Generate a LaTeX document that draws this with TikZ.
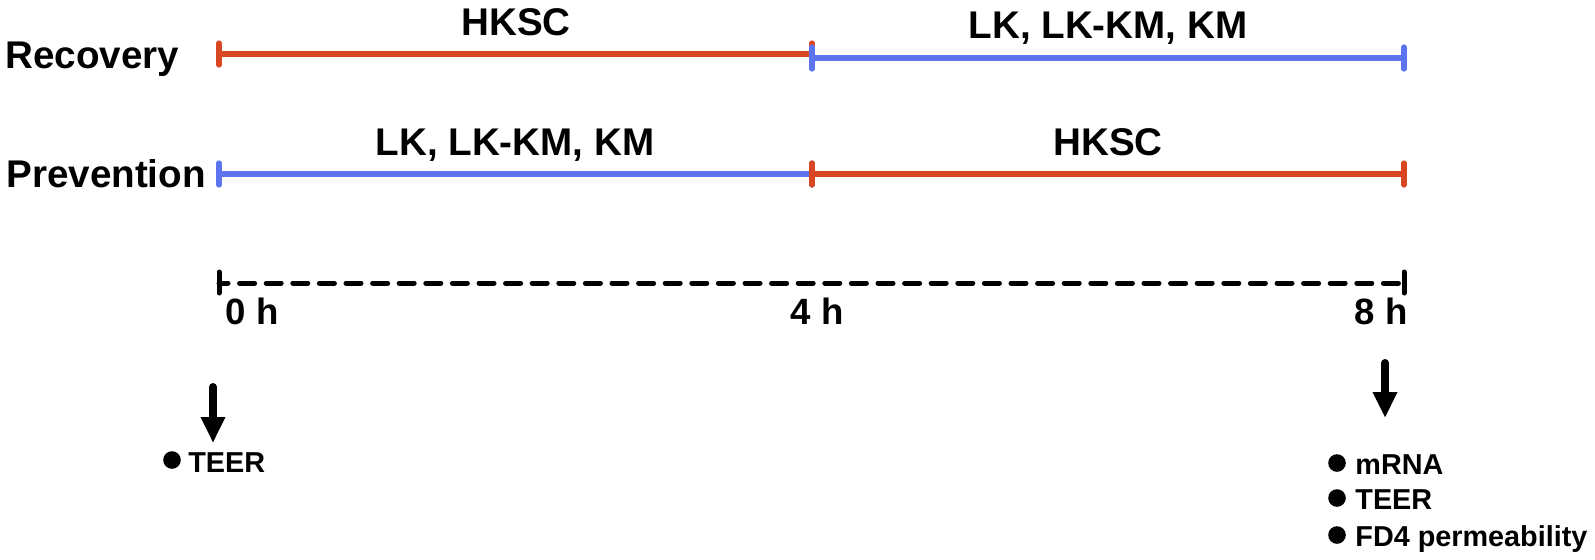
\documentclass[tikz,border=0pt]{standalone}
\usepackage{fontspec}
\setmainfont{Liberation Sans}
\usetikzlibrary{arrows.meta}
\definecolor{tlred}{RGB}{216,70,34}
\definecolor{tlblue}{RGB}{92,116,240}
\begin{document}
\begin{tikzpicture}[x=0.5pt,y=-0.5pt,
  seg/.style={line width=2.6pt,line cap=round},
  redseg/.style={seg,draw=tlred},
  blueseg/.style={seg,draw=tlblue},
  bigtxt/.style={inner sep=0pt,font=\fontsize{19.3}{22}\selectfont\bfseries},
  hourtxt/.style={inner sep=0pt,anchor=base,font=\fontsize{18.3}{22}\selectfont\bfseries},
  smalltxt/.style={inner sep=0pt,anchor=base west,font=\fontsize{14.4}{17}\selectfont\bfseries},
  dot/.style={circle,fill=black,inner sep=0pt,minimum size=8.8pt},
  bigarrow/.style={line width=4pt,line cap=round,-{Triangle[width=11.5pt,length=13pt]}}
]
\useasboundingbox (0,0) rectangle (1595,559);
% coordinates
\coordinate (ra) at (219,54);  \coordinate (rb) at (812,54);
\coordinate (rc) at (812,58);  \coordinate (rd) at (1404,58);
\coordinate (pa) at (219,174); \coordinate (pb) at (812,174);
\coordinate (pc) at (1404,174);
\coordinate (ta) at (219,283); \coordinate (tc) at (1404,283);
% row labels
\node[bigtxt,anchor=base west] (rec) at (5,68) {Recovery};
\node[bigtxt,anchor=base west] (prev) at (6,187) {Prevention};
% recovery row
\draw[redseg] (ra) -- (rb);
\draw[redseg] ([yshift=-5.5pt]ra) -- ([yshift=5.5pt]ra);
\draw[redseg] ([yshift=-5.5pt]rb) -- ([yshift=5.5pt]rb);
\draw[blueseg] (rc) -- (rd);
\draw[blueseg] ([yshift=-5.5pt]rc) -- ([yshift=5.5pt]rc);
\draw[blueseg] ([yshift=-5.5pt]rd) -- ([yshift=5.5pt]rd);
\node[bigtxt,anchor=base] (rl1) at (516,35) {HKSC};
\node[bigtxt,anchor=base] (rl2) at (1108,38) {LK, LK-KM, KM};
% prevention row
\draw[blueseg] (pa) -- (pb);
\draw[blueseg] ([yshift=-5.5pt]pa) -- ([yshift=5.5pt]pa);
\draw[blueseg] ([yshift=-5.5pt]pb) -- ([yshift=5.5pt]pb);
\draw[redseg] (pb) -- (pc);
\draw[redseg] ([yshift=-5.5pt]pb) -- ([yshift=5.5pt]pb);
\draw[redseg] ([yshift=-5.5pt]pc) -- ([yshift=5.5pt]pc);
\node[bigtxt,anchor=base] (pl1) at (515,155) {LK, LK-KM, KM};
\node[bigtxt,anchor=base] (pl2) at (1108,155) {HKSC};
% time axis
\draw[line width=2.5pt,line cap=round,dash pattern=on 7.5pt off 5.8pt,dash phase=3pt] (ta) -- (tc);
\draw[line width=2.5pt,line cap=round] ([yshift=-5pt]ta) -- ([yshift=5.5pt]ta);
\draw[line width=2.5pt,line cap=round] ([yshift=-5pt]tc) -- ([yshift=5.5pt]tc);
\node[hourtxt] (h0) at (252,324) {0 h};
\node[hourtxt] (h4) at (817,324) {4 h};
\node[hourtxt] (h8) at (1381,324) {8 h};
% left measurement
\coordinate (la) at (213,387); \coordinate (lb) at (213,443);
\draw[bigarrow] (la) -- (lb);
\node[dot] (d0) at (172,460) {};
\node[smalltxt] (t0) at (188,472) {TEER};
% right measurement
\coordinate (rra) at (1385,363); \coordinate (rrb) at (1385,418);
\draw[bigarrow] (rra) -- (rrb);
\node[dot] (d1) at (1337,463) {};
\node[dot] (d2) at (1337,498) {};
\node[dot] (d3) at (1337,535) {};
\node[smalltxt] (t1) at (1355,474) {mRNA};
\node[smalltxt] (t2) at (1355,509) {TEER};
\node[smalltxt] (t3) at (1355,546) {FD4 permeability};
\end{tikzpicture}
\end{document}
